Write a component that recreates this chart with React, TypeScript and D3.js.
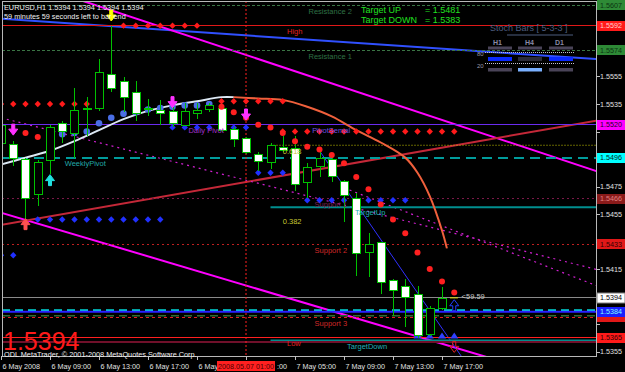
import React from "react";
import * as d3 from "d3";

// ---------- DATA ----------
const opens = [1.5507,1.5506,1.5495,1.5470,1.5494,1.5521,1.5514,1.5532,1.5532,1.5557,1.5552,1.5544,1.5532,1.5531,1.5530,1.5520,1.5529,1.5531,1.5532,1.5517,1.5510,1.5499,1.5493,1.5504,1.5503,1.5478,1.5490,1.5495,1.5479,1.5467,1.5427,1.5435,1.5407,1.5403,1.5397,1.5368,1.5387];
const highs = [1.5523,1.5508,1.5496,1.5494,1.5520,1.5523,1.5547,1.5540,1.5568,1.5592,1.5555,1.5552,1.5539,1.5538,1.5538,1.5536,1.5536,1.5536,1.5535,1.5518,1.5511,1.5500,1.5507,1.5512,1.5512,1.5492,1.5504,1.5499,1.5480,1.5470,1.5441,1.5435,1.5408,1.5408,1.5403,1.5388,1.5402];
const lows = [1.5503,1.5490,1.5449,1.5461,1.5484,1.5507,1.5496,1.5512,1.5530,1.5544,1.5529,1.5523,1.5526,1.5520,1.5518,1.5519,1.5524,1.5529,1.5515,1.5504,1.5499,1.5486,1.5488,1.5500,1.5472,1.5467,1.5482,1.5478,1.5449,1.5410,1.5409,1.5397,1.5381,1.5373,1.5365,1.5366,1.5385];
const closes = [1.5520,1.5496,1.5467,1.5493,1.5518,1.5515,1.5531,1.5531,1.5558,1.5547,1.5540,1.5529,1.5531,1.5529,1.5521,1.5530,1.5531,1.5534,1.5516,1.5510,1.5500,1.5494,1.5505,1.5502,1.5477,1.5489,1.5496,1.5483,1.5469,1.5427,1.5433,1.5406,1.5400,1.5395,1.5367,1.5387,1.5394];

const timeLabels = ["6 May 2008","6 May 09:00","6 May 13:00","6 May 17:00","6 May 21:00","7 May 01:00","7 May 05:00","7 May 09:00","7 May 13:00","7 May 17:00"];
const timeLabelBars = [0,4,8,12,16,20,24,28,32,36];
const priceTicks = [1.5355,1.5375,1.5395,1.5415,1.5435,1.5455,1.5475,1.5495,1.5515,1.5535,1.5555,1.5575,1.5595];

// regression curve (rising part white, falling part orange)
const maBars = [0,2,4,6,8,10,12,14,16,18,19];
const maValues = [1.5491,1.5496,1.5501,1.5508,1.5516,1.5524,1.5530,1.5534,1.5537,1.5540,1.5540];
const maFallBars = [19,21,23,25,27,29,31,33,34,35,36,36.4];
const maFallValues = [1.5540,1.5539,1.5538,1.5533,1.5526,1.5516,1.5507,1.5496,1.5485,1.5468,1.5443,1.5430];

// blue round dots
const dotBars = [4,5,6,7,8,9,10,11,12,13,14,15,16,17];
const dotValues = [1.5513,1.5513,1.5514,1.5515,1.5521,1.5525,1.5528,1.5529,1.5531,1.5532,1.5533,1.5534,1.5534,1.5535];

// red SAR dots
const sarBars = [2,3,18,19,20,21,22,23,24,25,26,27,28,29,30,31,32,33,34,35,36,37];
const sarValues = [1.5514,1.5511,1.5533,1.5529,1.5525,1.5520,1.5518,1.5514,1.5508,1.5504,1.5502,1.5498,1.5492,1.5482,1.5473,1.5462,1.5451,1.5441,1.5427,1.5415,1.5406,1.5398];

// red diamond rows (from bar, to bar, price)
const redRowFrom = [0,10,18,23];
const redRowTo = [8,16,23,37];
const redRowPrice = [1.5535,1.5592,1.5537,1.5515];
// blue diamond rows
const blueRowFrom = [0,3,14,21,25];
const blueRowTo = [1,13,20,24,33];
const blueRowPrice = [1.5425,1.5451,1.5518,1.5485,1.5465];
const triBars = [34,35,36,37];
const triPrice = 1.5366;

// trend lines: anchors (bar, price) and drawn span
const trendB1 = [0,7,0,0,0,28,26];
const trendP1 = [1.5597,1.5609,1.5456,1.5447,1.5525,1.5474,1.5501];
const trendB2 = [48,48,37,48,48,48,37];
const trendP2 = [1.5568,1.5488,1.5358,1.5522,1.5416,1.5405,1.5359];
const trendFrom = [0,0,0,0,0,28,26];
const trendTo = [48.6,48.6,41,48.6,48.6,48.6,37.6];

// pivot levels
const levelNames = ["Resistance 2","High","Resistance 1","Daily Pivot","WeeklyPivot","Support 1","Support 2","Support 3","Low"];
const levelPrices = [1.5607,1.5592,1.5574,1.5520,1.5496,1.5466,1.5433,1.5380,1.5365];
const levelLabelBars = [25.1,23.35,25.1,15.3,5.2,25.6,25.6,25.6,23.35];

const fibNames = ["0.618","0.382"];
const fibPrices = [1.5505,1.5454];
const targetNames = ["TargetUp","TargetDown"];
const targetPrices = [1.5460,1.5363];
const targetUp = 1.5481;
const targetDown = 1.5383;
const bidPrice = 1.5394;
const extraLevels = [1.5385,1.5384,1.5381,1.5362];

const tagPrices = [1.5607,1.5592,1.5574,1.5520,1.5496,1.5466,1.5433,1.5394,1.5380,1.5384,1.5365];

// arrows
const arrowBars = [1,14,20,9,4,2,37,37];
const arrowPrices = [1.5516,1.5536,1.5527,1.5599,1.5480,1.5448,1.5389,1.5358];
const arrowKinds = ["down","down","down","down","up","up","upHollow","downHollow"];

// ---------- STYLES ----------
const F = "'Liberation Sans', Arial, Helvetica, sans-serif";
const levelStyle = [
  { c: "#3a7444", d: "3,2", w: 1, tc: "#2f7045" },
  { c: "#e01818", d: "", w: 1, tc: "#e02020" },
  { c: "#3a7444", d: "3,2", w: 1, tc: "#2f7045" },
  { c: "#6a2cf0", d: "", w: 1.5, tc: "#a030c8" },
  { c: "#009c9c", d: "10,6", w: 2, tc: "#20a8a8" },
  { c: "#7a1848", d: "2,3", w: 1, tc: "#7a2050" },
  { c: "#c02020", d: "2,3", w: 1, tc: "#d02828" },
  { c: "#e02020", d: "3,3", w: 1, tc: "#d02828" },
  { c: "#ff2020", d: "", w: 1, tc: "#e02020" },
];
const tagStyle = [
  { bg: "#2e8a36", fg: "#0b3310" },
  { bg: "#ff1a1a", fg: "#ffd0d0" },
  { bg: "#2e8a36", fg: "#0b3310" },
  { bg: "#ff00ff", fg: "#200020" },
  { bg: "#00ffff", fg: "#002020" },
  { bg: "#8a1a1a", fg: "#e08080" },
  { bg: "#e01818", fg: "#300000" },
  { bg: "#ffffff", fg: "#000000" },
  { bg: "#e01818", fg: "#300000" },
  { bg: "#1a20ff", fg: "#80ffff" },
  { bg: "#ff1a1a", fg: "#300000" },
];
const trendStyle = [
  { c: "#3050ff", w: 2, d: "" },
  { c: "#ff00ff", w: 2, d: "" },
  { c: "#ff00ff", w: 2, d: "" },
  { c: "#c42838", w: 2, d: "" },
  { c: "#d020d0", w: 1.2, d: "2,4" },
  { c: "#d020d0", w: 1.2, d: "2,4" },
  { c: "#3030ff", w: 1, d: "" },
];
const arrowColors = ["#ff30ff","#ff30ff","#ff30ff","#ffff00","#20e0e0","#ff5050","#2040ff","#e02020"];

export default function App() {
  const plotL = 2, plotR = 596, plotT = 1, plotB = 356;
  const x = d3.scaleLinear().domain([0, 36]).range([1, 442]);
  const y = d3.scaleLinear().domain([1.5535, 1.5355]).range([104, 351.5]);

  const maPath = d3.line<number>().curve(d3.curveCatmullRom.alpha(0.5))
    .x((_, i) => x(maBars[i])).y((d) => y(d))(maValues) || "";
  const maFallPath = d3.line<number>().curve(d3.curveCatmullRom.alpha(0.5))
    .x((_, i) => x(maFallBars[i])).y((d) => y(d))(maFallValues) || "";

  const trendY = (k: number, b: number) => {
    const p = trendP1[k] + (trendP2[k] - trendP1[k]) * (b - trendB1[k]) / (trendB2[k] - trendB1[k]);
    return y(p);
  };

  const diamond = (cx: number, cy: number, r: number) =>
    `M${cx},${cy - r}L${cx + r},${cy}L${cx},${cy + r}L${cx - r},${cy}Z`;

  const arrowPath = (kind: string, cx: number, cy: number) => {
    if (kind === "down" || kind === "downHollow") {
      return `M${cx - 1.5},${cy - 6}h3v5h3l-4.5,6l-4.5,-6h3z`;
    }
    return `M${cx - 1.5},${cy + 6}h3v-5h3l-4.5,-6l-4.5,6h3z`;
  };

  const hl = (p: number, x1 = plotL, x2 = plotR) => ({ x1, x2, y1: y(p), y2: y(p) });

  // tick labels hidden behind coloured price tags
  const visibleTicks = priceTicks.filter((p) => tagPrices.every((t) => Math.abs(y(t) - y(p)) > 9));

  // time labels partly hidden by the red cursor box
  const boxL = x(20) - 29, boxR = x(20) + 29;
  const timeText = (i: number) => {
    const lx = x(timeLabelBars[i]) + 1.5;
    const t = timeLabels[i];
    if (lx < boxL && lx + 40 > boxL) return { x: lx, t: t.slice(0, 5) };
    if (lx >= boxL && lx < boxR) return { x: boxR + 2, t: t.slice(t.length - 3) };
    return { x: lx, t };
  };

  return (
    <svg width={625} height={372} style={{ position: "fixed", left: 0, top: 0, background: "#000" }}
      fontFamily={F}>
      <rect x={0} y={0} width={625} height={372} fill="#000" />
      <defs>
        <clipPath id="plot">
          <rect x={plotL} y={plotT} width={plotR - plotL} height={plotB - plotT} />
        </clipPath>
      </defs>

      <g clipPath="url(#plot)">
        {trendB1.map((_, k) => (
          <line key={"t" + k} x1={x(trendFrom[k])} x2={x(trendTo[k])}
            y1={trendY(k, trendFrom[k])} y2={trendY(k, trendTo[k])}
            stroke={trendStyle[k].c} strokeWidth={trendStyle[k].w}
            strokeDasharray={trendStyle[k].d || undefined} />
        ))}

        {levelPrices.map((p, i) => (
          <line key={"l" + i} {...hl(p)} stroke={levelStyle[i].c} strokeWidth={levelStyle[i].w}
            strokeDasharray={levelStyle[i].d || undefined} shapeRendering="crispEdges" />
        ))}
        <line {...hl(fibPrices[0], x(22), plotR)} stroke="#c8c800" strokeWidth={1} strokeDasharray="1,2" />
        {targetPrices.map((p, i) => (
          <line key={"tg" + i} {...hl(p, x(22), plotR)} stroke="#008e8e" strokeWidth={2} />
        ))}
        <line {...hl(bidPrice)} stroke="#8a8a8a" strokeWidth={1} shapeRendering="crispEdges" />
        <line {...hl(extraLevels[0])} stroke="#00d8d8" strokeWidth={2} strokeDasharray="8,5" />
        <line {...hl(extraLevels[1])} stroke="#2a22ff" strokeWidth={2} />
        <line {...hl(extraLevels[2])} stroke="#2e6b34" strokeWidth={1.5} strokeDasharray="8,5" />
        <line {...hl(extraLevels[3])} stroke="#70102a" strokeWidth={2} />

        <line x1={x(20)} x2={x(20)} y1={plotT} y2={plotB} stroke="#ff2020" strokeWidth={1} strokeDasharray="2,2" />

        <path d={maPath} fill="none" stroke="#dce8f4" strokeWidth={2} />
        <path d={maFallPath} fill="none" stroke="#f0603c" strokeWidth={2} />

        {dotBars.map((b, i) => (
          <circle key={"bd" + i} cx={x(b)} cy={y(dotValues[i])} r={3.3} fill="#4a6ee6" />
        ))}

        {redRowFrom.map((f, r) => d3.range(f, redRowTo[r] + 1).map((b) => (
          <path key={"rr" + r + "_" + b} d={diamond(x(b), y(redRowPrice[r]), 3.2)} fill="#ff1a1a" />
        )))}
        {blueRowFrom.map((f, r) => d3.range(f, blueRowTo[r] + 1).map((b) => (
          <path key={"br" + r + "_" + b} d={diamond(x(b), y(blueRowPrice[r]), 3.2)} fill="#2030ff" />
        )))}
        {triBars.map((b) => (
          <path key={"tri" + b} d={`M${x(b)},${y(triPrice) - 4}L${x(b) + 4},${y(triPrice) + 2}L${x(b) - 4},${y(triPrice) + 2}Z`} fill="#3040ff" />
        ))}

        {opens.map((o, i) => {
          const c = closes[i];
          const cx = Math.round(x(i)) + 0.5;
          const top = y(Math.max(o, c));
          const bot = y(Math.min(o, c));
          return (
            <g key={"c" + i} shapeRendering="crispEdges">
              <line x1={cx} x2={cx} y1={y(highs[i])} y2={y(lows[i])} stroke="#00c000" strokeWidth={1} />
              <rect x={cx - 4} y={Math.round(top) + 0.5} width={8} height={Math.max(1, Math.round(bot - top))}
                fill={o > c ? "#ffffff" : "#000000"} stroke="#00c000" strokeWidth={1} />
            </g>
          );
        })}

        {sarBars.map((b, i) => (
          <circle key={"s" + i} cx={x(b)} cy={y(sarValues[i])} r={3} fill="#ff2020" />
        ))}

        {arrowBars.map((b, i) => (
          <path key={"a" + i} d={arrowPath(arrowKinds[i], x(b), y(arrowPrices[i]))}
            fill={arrowKinds[i].includes("Hollow") ? "none" : arrowColors[i]}
            stroke={arrowColors[i]} strokeWidth={1} />
        ))}

        {levelNames.map((n, i) => (
          <text key={"ln" + i} x={x(levelLabelBars[i])} y={y(levelPrices[i]) + 8.5} fontSize={7.5}
            fill={levelStyle[i].tc}>{n}</text>
        ))}
        <text x={x(25.4)} y={y(levelPrices[3]) + 8.5} fontSize={7.5} fill="#6a50e0">PivotSemal</text>
        {fibNames.map((n, i) => (
          <text key={"fb" + i} x={x(23)} y={y(fibPrices[i]) + 8.5} fontSize={7.5} fill="#c8c832">{n}</text>
        ))}
        <text x={x(28.9)} y={y(targetPrices[0]) + 7.5} fontSize={7.5} fill="#22b0b8">{targetNames[0]}</text>
        <text x={x(28.25)} y={y(targetPrices[1]) + 8} fontSize={7.5} fill="#22b0b8">{targetNames[1]}</text>
        <line x1={x(36.65)} x2={x(37.3)} y1={y(bidPrice)} y2={y(bidPrice)} stroke="#e0e000" strokeWidth={1} />
        <text x={x(37.6)} y={y(bidPrice) + 1} fontSize={7.5} fill="#c8c8c8">{"<59.59"}</text>

        <g>
          <text x={490} y={31} fontSize={9} fill="#4c5c7e">Stoch Bars [ 5-3-3 ]</text>
          <line x1={507} x2={573} y1={35} y2={35} stroke="#4c5c7e" strokeWidth={1} />
          <text x={493} y={45} fontSize={7} fill="#8a8aa8" fontWeight="bold">H1</text>
          <text x={525} y={45} fontSize={7} fill="#8a8aa8" fontWeight="bold">H4</text>
          <text x={555} y={45} fontSize={7} fill="#8a8aa8" fontWeight="bold">D1</text>
          {[488, 518, 549].map((bx) => (
            <rect key={"g" + bx} x={bx} y={46.5} width={24} height={3} fill="#4a4458" />
          ))}
          <text x={477} y={56} fontSize={6} fill="#9a9aaa">80</text>
          <line x1={485} x2={575} y1={52.5} y2={52.5} stroke="#c0c0d0" strokeWidth={1} strokeDasharray="1,1" />
          <rect x={488} y={57} width={24} height={4} fill="#0a2aff" />
          <rect x={518} y={57} width={24} height={4} fill="#2c2c38" />
          <rect x={549} y={57} width={24} height={4} fill="#0a2aff" />
          <text x={477} y={68} fontSize={6} fill="#9a9aaa">20</text>
          <line x1={485} x2={575} y1={63.5} y2={63.5} stroke="#c0c0d0" strokeWidth={1} strokeDasharray="1,1" />
          <rect x={488} y={68} width={24} height={3.5} fill="#4a4458" />
          <rect x={518} y={68} width={24} height={3.5} fill="#7ab0ff" />
          <rect x={549} y={68} width={24} height={3.5} fill="#4a4458" />
        </g>
      </g>

      <rect x={plotL + 0.5} y={plotT + 0.5} width={plotR - plotL} height={plotB - plotT} fill="none"
        stroke="#b8b8b8" strokeWidth={1} shapeRendering="crispEdges" />

      {priceTicks.map((p) => (
        <line key={"pk" + p} x1={plotR} x2={plotR + 4} y1={Math.round(y(p)) + 0.5} y2={Math.round(y(p)) + 0.5} stroke="#c0c0c0" />
      ))}
      {visibleTicks.map((p) => (
        <text key={"pt" + p} x={600} y={y(p) + 2.5} fontSize={7.2} fill="#e0e0e0">{p.toFixed(4)}</text>
      ))}
      {tagPrices.map((p, i) => (
        <g key={"tag" + i}>
          <rect x={597} y={Math.round(y(p)) - 5} width={28} height={10} fill={tagStyle[i].bg}
            stroke={i === 7 ? "#808080" : "none"} />
          {(i !== 8) && (
            <text x={600} y={y(p) + 2.6} fontSize={7.2} fill={tagStyle[i].fg}>{p.toFixed(4)}</text>
          )}
        </g>
      ))}

      {timeLabelBars.map((b, i) => {
        const tt = timeText(i);
        return (
          <g key={"tl" + i}>
            <line x1={Math.round(x(b)) + 0.5} x2={Math.round(x(b)) + 0.5} y1={plotB} y2={plotB + 4} stroke="#c0c0c0" />
            <text x={tt.x} y={369} fontSize={7.2} fill="#e0e0e0">{tt.t}</text>
          </g>
        );
      })}
      <rect x={boxL} y={361} width={58} height={10} fill="#ff2020" />
      <text x={x(20)} y={369} fontSize={7.2} fill="#4a0000" textAnchor="middle">2008.05.07 01:00</text>

      <text x={4} y={9.5} fontSize={7.3} fill="#f0f0f0">{"EURUSD,H1  1.5394 1.5394 1.5394 1.5394"}</text>
      <text x={4} y={18.5} fontSize={7.3} fill="#f0f0f0">59 minutes 59 seconds left to bar end</text>
      <text x={361} y={13} fontSize={9} fill="#20e020">Target UP</text>
      <text x={425} y={13} fontSize={9} fill="#20e020">{"= " + targetUp.toFixed(4)}</text>
      <text x={361} y={23} fontSize={9} fill="#20e020">Target DOWN</text>
      <text x={425} y={23} fontSize={9} fill="#20e020">{"= " + targetDown.toFixed(4)}</text>

      <text x={3} y={350} fontSize={25} fill="#ff1a1a">{bidPrice.toFixed(4)}</text>
      <text x={4} y={356.5} fontSize={7.3} fill="#f0f0f0">ODL MetaTrader, © 2001-2008 MetaQuotes Software Corp.</text>
    </svg>
  );
}
